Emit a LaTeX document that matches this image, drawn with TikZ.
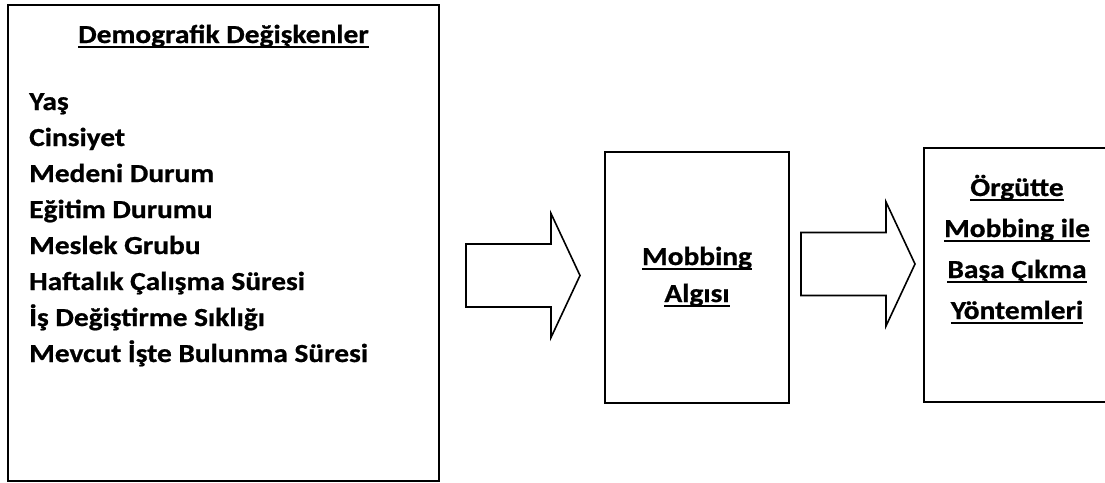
\documentclass[tikz,border=0pt]{standalone}
\usepackage{fontspec}
\setmainfont{Carlito}[FakeStretch=1.13, BoldFeatures={FakeBold=0.8}]
\usepackage{tikz}
\def\undl#1{\setbox0\hbox{#1}\leavevmode\rlap{\rule[-5pt]{\wd0}{1.8pt}}\box0}
\def\blockarrow(#1){\draw[blockarr, shift={(#1)}] (0,-31.5) -- (85,-31.5) -- (85,-62) -- (114,0) -- (85,62) -- (85,31.5) -- (0,31.5) -- cycle;}
\tikzset{
	box/.style={draw, line width=2pt, rectangle, inner sep=0pt},
	blockarr/.style={line width=1.6pt, line join=miter},
	txt/.style={font=\fontsize{26}{30}\selectfont\bfseries, inner sep=0pt},
}

\begin{document}
\begin{tikzpicture}[x=1pt, y=-1pt]
		%%%%% START %%%%%
		\useasboundingbox (0,0) rectangle (1105,482);
		
		% boxes
		\node[box, minimum width=431pt, minimum height=476pt] (demo) at (223.5, 243) {};
		\node[box, minimum width=184pt, minimum height=251pt] (algi) at (697, 277.5) {};
		\node[box, minimum width=188pt, minimum height=254pt, anchor=south west] (yontem) at (923, 403) {};
		
		% left box
		\node[txt, anchor=base] (title) at (223.5, 43) {\undl{Demografik Değişkenler}};
		\foreach \t [count=\i] in {Yaş, Cinsiyet, Medeni Durum, Eğitim Durumu, Meslek Grubu, Haftalık Çalışma Süresi, İş Değiştirme Sıklığı, Mevcut İşte Bulunma Süresi}
			\node[txt, anchor=base west] (v\i) at (29, 74+36*\i) {\t};
		
		% arrows
		\coordinate (a1) at (466, 275.5);
		\coordinate (a2) at (801, 264);
		\blockarrow(a1)
		\blockarrow(a2)
		
		% middle box
		\node[txt, anchor=base] (m1) at (697, 265) {\undl{Mobbing}};
		\node[txt, anchor=base] (m2) at (697, 302) {\undl{Algısı}};
		
		% right box
		\node[txt, anchor=base] (r1) at (1017, 196) {\undl{Örgütte}};
		\node[txt, anchor=base] (r2) at (1017, 237) {\undl{Mobbing ile}};
		\node[txt, anchor=base] (r3) at (1017, 278) {\undl{Başa Çıkma}};
		\node[txt, anchor=base] (r4) at (1017, 319) {\undl{Yöntemleri}};
		%%%%% END %%%%%
\end{tikzpicture}
\end{document}
